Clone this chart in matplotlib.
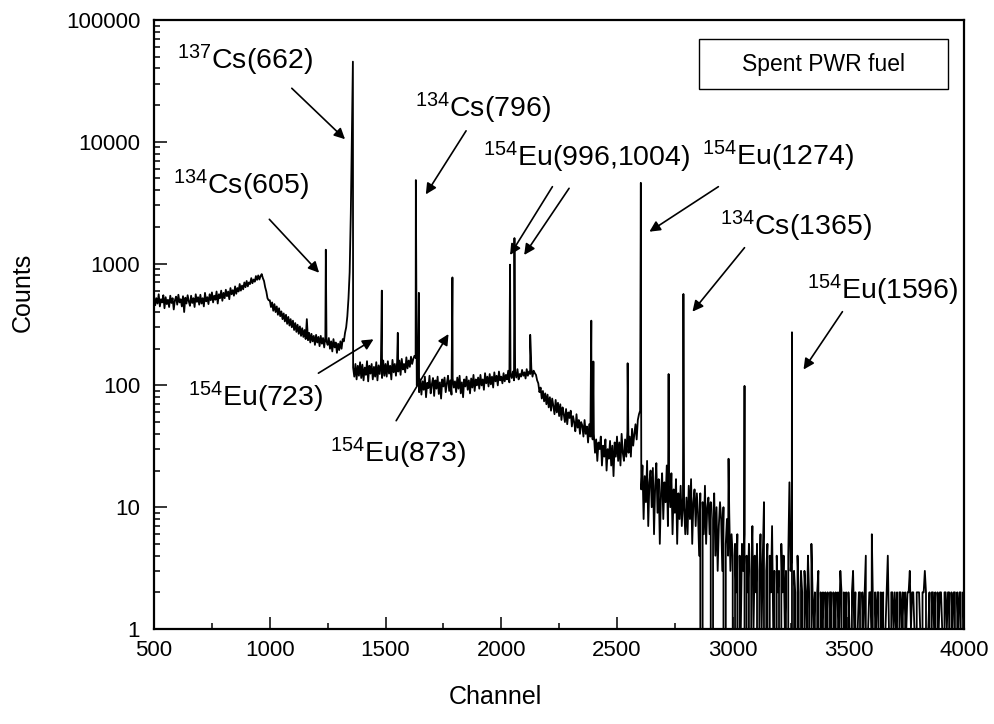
import numpy as np
import matplotlib
matplotlib.use("Agg")
import matplotlib.pyplot as plt
from matplotlib.ticker import FixedLocator, FuncFormatter, NullFormatter, LogLocator
from matplotlib.patches import Rectangle

plt.rcParams["font.family"] = ["Liberation Sans", "DejaVu Sans"]
plt.rcParams["mathtext.fontset"] = "custom"
plt.rcParams["mathtext.rm"] = "Liberation Sans"
plt.rcParams["mathtext.default"] = "regular"

# spectrum continuum, every 5 channels (segment start channel in the name)
counts_500 = [
    540, 455, 520, 470, 560, 445, 510, 480, 550, 430,
    530, 465, 505, 440, 545, 475, 520, 420, 500, 535,
    460, 555, 480, 510, 445, 540, 400, 525, 470, 550,
    490, 450, 545, 475, 520, 440, 560, 485, 530, 460,
    555, 470, 520, 445, 575, 490, 530, 465, 560, 500,
    580, 480, 545, 505, 590, 470, 560, 520, 600, 495,
    575, 520, 610, 540, 590, 510, 630, 560, 605, 545,
    650, 565, 630, 590, 680, 600, 660, 615, 700, 640,
    720, 650, 700, 680, 760, 690, 740, 710, 790, 735,
    800, 740, 790, 820, 760, 720, 640, 590, 520, 500,
]
counts_1000 = [
    500, 440, 480, 410, 465, 400, 445, 380, 430, 370,
    405, 350, 390, 335, 380, 320, 365, 310, 350, 300,
    340, 285, 325, 275, 315, 265, 305, 255, 295, 250,
    285, 240, 350, 235, 270, 225, 265, 230, 255, 215,
    260, 225, 250, 210, 255, 220, 245, 205, 250, 230,
    215, 245, 200, 230, 190, 240, 205, 225, 185, 220,
    195, 230, 200, 240, 230, 270, 300, 370, 520, 850,
    2600, 12000, 140, 118, 150, 112, 145, 120, 155, 115,
    148, 110, 140, 122, 158, 108, 145, 125, 150, 112,
    142, 118, 155, 110, 146, 124, 152, 115, 160, 120,
]
counts_1500 = [
    150, 118, 158, 125, 145, 112, 162, 128, 150, 120,
    155, 130, 160, 122, 165, 135, 150, 128, 170, 138,
    160, 142, 172, 150, 165, 175, 168, 100, 118, 88,
    112, 84, 108, 92, 118, 80, 105, 95, 120, 86,
    102, 115, 82, 110, 94, 118, 85, 106, 78, 112,
    98, 116, 88, 104, 120, 90, 110, 84, 114, 96,
    108, 88, 116, 94, 120, 86, 106, 80, 112, 98,
    118, 92, 110, 86, 114, 96, 122, 90, 112, 100,
    116, 94, 122, 100, 112, 92, 126, 104, 118, 98,
    124, 102, 118, 96, 128, 108, 120, 100, 130, 110,
]
counts_2000 = [
    118, 104, 126, 108, 122, 112, 132, 106, 125, 115,
    130, 110, 128, 116, 136, 112, 124, 118, 134, 120,
    128, 114, 136, 120, 130, 124, 138, 118, 132, 126,
    122, 110, 104, 88, 96, 78, 90, 74, 86, 70,
    84, 66, 80, 62, 78, 68, 58, 76, 60, 72,
    56, 70, 52, 66, 58, 50, 64, 48, 60, 54,
    62, 46, 56, 50, 42, 58, 45, 52, 40, 50,
    47, 38, 52, 40, 46, 34, 48, 38, 44, 36,
    40, 28, 36, 24, 34, 30, 38, 22, 32, 26,
    36, 20, 30, 25, 35, 22, 32, 18, 34, 26,
]
counts_2500 = [
    38, 24, 34, 22, 40, 28, 24, 36, 26, 42,
    28, 38, 26, 44, 32, 40, 48, 36, 52, 58,
    62, 14, 22, 8, 18, 11, 24, 7, 16, 20,
    10, 21, 6, 15, 23, 9, 17, 5, 13, 19,
    8, 16, 11, 22, 7, 15, 10, 19, 6, 14,
    9, 17, 5, 13, 8, 15, 7, 12, 10, 6,
    12, 6, 15, 8, 17, 5, 11, 14, 7, 13,
    9, 4, 13, 0, 11, 6, 15, 5, 10, 12,
    6, 11, 0, 8, 13, 4, 10, 3, 7, 11,
    8, 3, 10, 0, 5, 8, 4, 9, 3, 6,
]
counts_3000 = [
    4, 0, 5, 2, 6, 0, 4, 1, 5, 3,
    6, 0, 4, 2, 5, 0, 3, 7, 1, 4,
    2, 5, 0, 3, 6, 1, 4, 11, 0, 3,
    5, 0, 4, 2, 7, 1, 3, 0, 4, 2,
    3, 0, 5, 2, 4, 1, 3, 0, 4, 16,
    3, 4, 0, 3, 2, 0, 4, 2, 0, 3,
    2, 0, 3, 2, 1, 4, 2, 0, 5, 2,
    1, 2, 0, 2, 3, 0, 2, 1, 2, 0,
    2, 1, 2, 0, 2, 2, 0, 2, 1, 2,
    0, 2, 1, 3, 2, 0, 2, 1, 2, 0,
]
counts_3500 = [
    2, 1, 0, 2, 3, 1, 2, 0, 1, 2,
    2, 0, 2, 1, 2, 4, 0, 1, 2, 2,
    1, 2, 0, 2, 1, 2, 2, 0, 2, 1,
    2, 0, 1, 2, 4, 1, 0, 2, 2, 1,
    2, 1, 2, 0, 2, 2, 1, 2, 0, 2,
    1, 2, 2, 3, 1, 2, 2, 1, 0, 2,
    2, 2, 1, 0, 2, 2, 3, 2, 0, 1,
    2, 0, 2, 2, 1, 2, 0, 2, 1, 2,
    2, 1, 0, 2, 2, 1, 2, 2, 0, 2,
    1, 2, 2, 0, 2, 1, 2, 2, 0, 2,
    1,
]
segments = [(500, counts_500), (1000, counts_1000), (1500, counts_1500),
            (2000, counts_2000), (2500, counts_2500), (3000, counts_3000),
            (3500, counts_3500)]

# photopeak tops (channel, counts)
peak_ch = [1242, 1359, 1484, 1553, 1631, 1644, 1789, 2038, 2057, 2125,
           2389, 2398, 2546, 2603, 2723, 2787, 2982, 3051, 3256, 3601]
peak_counts = [1300, 45500, 600, 270, 4850, 575, 770, 980, 1620, 260,
               340, 157, 152, 4600, 124, 563, 25, 99, 273, 6]

labels = [r"$^{137}$Cs(662)", r"$^{134}$Cs(605)", r"$^{134}$Cs(796)",
          r"$^{154}$Eu(996,1004)", r"$^{154}$Eu(1274)", r"$^{134}$Cs(1365)",
          r"$^{154}$Eu(1596)", r"$^{154}$Eu(723)", r"$^{154}$Eu(873)"]
label_pos = [(893, 47000), (876, 4420), (1922, 18960), (2371, 7500),
             (3196, 7640), (3274, 2035), (3646, 607), (941, 80), (1554, 27.9)]
# arrows: (tail, head)
arrows = [((1095, 27500), (1325, 10500)),
          ((998, 2310), (1213, 841)),
          ((1848, 12300), (1674, 3700)),
          ((2221, 4280), (2038, 1177)),
          ((2293, 4150), (2099, 1177)),
          ((2938, 4280), (2640, 1828)),
          ((3051, 1351), (2826, 403)),
          ((3474, 403), (3306, 135)),
          ((1210, 126), (1448, 239)),
          ((1546, 51.3), (1772, 264))]

ch = np.concatenate([np.arange(s, s + 5 * len(c), 5) for s, c in segments] + [np.array(peak_ch)])
cnt = np.concatenate([np.array(c, dtype=float) for s, c in segments] + [np.array(peak_counts, dtype=float)])
order = np.argsort(ch, kind="stable")
ch, cnt = ch[order], cnt[order]

fig = plt.figure(figsize=(9.94, 7.24), dpi=100)
ax = fig.add_axes([0.155, 0.1312, 0.815, 0.8412])

ax.plot(ch, cnt, color="black", lw=1.3)
ax.set_yscale("log", nonpositive="clip")
ax.set_xlim(500, 4000)
ax.set_ylim(1, 100000)

ax.xaxis.set_major_locator(FixedLocator(np.arange(500, 4001, 500)))
ax.xaxis.set_minor_locator(FixedLocator(np.arange(750, 4000, 500)))
ax.yaxis.set_major_locator(LogLocator(base=10, numticks=10))
ax.yaxis.set_minor_locator(LogLocator(base=10, subs=np.arange(2, 10), numticks=20))
ax.yaxis.set_major_formatter(FuncFormatter(lambda v, p: f"{int(round(v))}"))
ax.yaxis.set_minor_formatter(NullFormatter())

ax.tick_params(which="both", direction="in", top=False, right=False, width=1.1, labelsize=16)
ax.tick_params(which="major", length=9)
ax.tick_params(which="minor", length=4.5)
ax.tick_params(axis="x", pad=8)
ax.tick_params(axis="y", pad=10)
for sp in ax.spines.values():
    sp.set_linewidth(1.6)

ax.set_xlabel("Channel", fontsize=18)
ax.set_ylabel("Counts", fontsize=18)
ax.xaxis.set_label_coords(0.421, -0.092)
ax.yaxis.set_label_coords(-0.147, 0.553)

for txt, (x, y) in zip(labels, label_pos):
    ax.text(x, y, txt, fontsize=20.5, ha="center", va="center")
for (tail, head) in arrows:
    ax.annotate("", xy=head, xytext=tail,
                arrowprops=dict(arrowstyle="-|>", color="black", lw=1.2,
                                mutation_scale=16, shrinkA=0, shrinkB=0))

ax.add_patch(Rectangle((0.673, 0.887), 0.307, 0.081, transform=ax.transAxes,
                       fill=False, edgecolor="black", lw=1.0))
ax.text(0.8265, 0.9275, "Spent PWR fuel", transform=ax.transAxes,
        fontsize=16.5, ha="center", va="center")

fig.savefig("out.png", dpi=100)
